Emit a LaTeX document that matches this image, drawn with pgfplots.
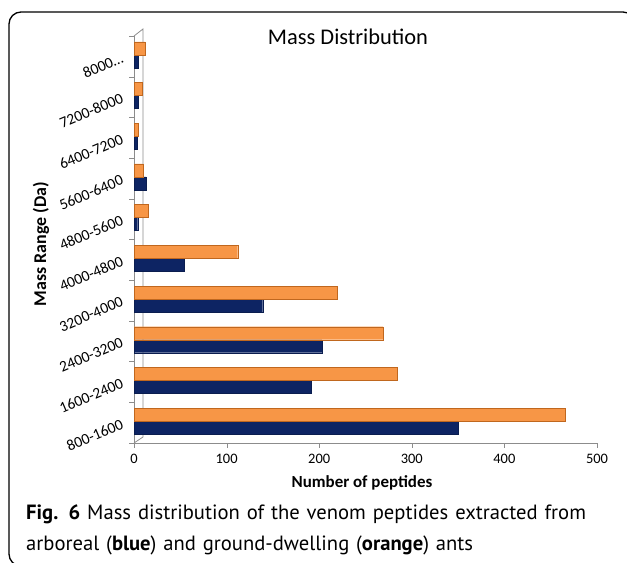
\documentclass[border=0pt]{standalone}
\usepackage{pgfplots}
\pgfplotsset{compat=1.18}
\usepackage{fontspec}
\setmainfont{Carlito}
\newfontfamily\capfont{PT Sans}
\definecolor{navy}{HTML}{0D2463}
\definecolor{orng}{HTML}{F79646}
\definecolor{orngdark}{HTML}{C0671E}
\definecolor{axgray}{HTML}{8C8C8C}
\newcommand\tlfont{\fontsize{14.5}{14.5}\selectfont}
\newcommand\ylfont{\fontsize{15.5}{15.5}\selectfont}
\begin{document}
\begin{tikzpicture}[x=1bp,y=1bp]
\useasboundingbox (0,0) rectangle (627,563);
\draw[line width=1.3bp, rounded corners=12bp] (9,-3) rectangle (635,551);
\node[font=\fontsize{22.5}{22.5}\selectfont] at (348,526) {Mass Distribution};
\begin{axis}[
  at={(134bp,120bp)}, anchor=south west,
  scale only axis, width=463bp, height=407bp,
  xbar, xmin=0, xmax=500, ymin=-0.5, ymax=9.5,
  bar width=13bp,
  xtick={0,100,...,500},
  ytick={0,...,9},
  yticklabels={800-1600,1600-2400,2400-3200,3200-4000,4000-4800,4800-5600,5600-6400,6400-7200,7200-8000,{8000…}},
  minor ytick={-0.5,0.5,...,9.5},
  major y tick style={draw=none},
  minor y tick style={axgray},
  x tick style={axgray},
  major tick length=5bp, minor tick length=5bp,
  tick align=outside,
  axis x line*=bottom, axis y line*=left,
  axis line style={axgray, line width=0.8bp},
  /pgf/number format/assume math mode=true,
  xticklabel style={font=\tlfont, yshift=-3bp},
  yticklabel style={font=\ylfont, rotate=23, anchor=east, xshift=-3bp, yshift=2bp},
  clip=false,
]
\draw[axgray, line width=0.8bp] (rel axis cs:0,0) -- ([xshift=9bp,yshift=6bp]rel axis cs:0,0) -- ([xshift=9bp,yshift=7bp]rel axis cs:0,1) -- (rel axis cs:0,1);
\addplot[xbar, bar shift=-5bp, fill=navy, draw=navy!80!black] coordinates {
 (350,0) (191,1) (203,2) (139,3) (54,4) (4,5) (13,6) (3,7) (5,8) (5,9)};
\addplot[xbar, bar shift=8bp, fill=orng, draw=orngdark] coordinates {
 (466,0) (284,1) (269,2) (219,3) (112,4) (15,5) (10,6) (5,7) (9,8) (12,9)};
\end{axis}
\node[font=\bfseries\fontsize{18}{18}\selectfont, rotate=90] at (41,319) {Mass Range (Da)};
\node[font=\bfseries\fontsize{17}{17}\selectfont] at (362,80) {Number of peptides};
\node[anchor=north west, text width=610bp, inner sep=0pt, font=\capfont\fontsize{20.7}{31}\selectfont] at (26,58)
 {\textbf{Fig. 6} Mass distribution of the venom peptides extracted from\\
  arboreal (\textbf{blue}) and ground-dwelling (\textbf{orange}) ants};
\end{tikzpicture}
\end{document}
